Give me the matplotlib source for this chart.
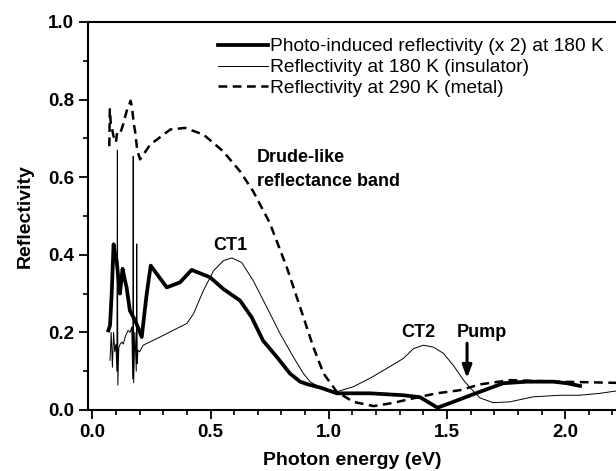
import matplotlib
matplotlib.use("Agg")
import matplotlib.pyplot as plt
from matplotlib.ticker import MultipleLocator

plt.rcParams['font.family'] = ['Liberation Sans', 'DejaVu Sans']

# Photo-induced reflectivity (x2) at 180 K
x_photo = [0.068, 0.075, 0.082, 0.09, 0.097, 0.103, 0.110, 0.117, 0.122, 0.128, 0.136, 0.145,
           0.159, 0.181, 0.195, 0.209, 0.23, 0.247, 0.315, 0.371, 0.42, 0.498, 0.554, 0.625,
           0.674, 0.722, 0.78, 0.836, 0.879, 0.912, 0.963, 1.034, 1.175, 1.316, 1.386, 1.46,
           1.527, 1.6, 1.64, 1.738, 1.838, 1.95, 2.007, 2.063]
y_photo = [0.205, 0.218, 0.30, 0.427, 0.40, 0.385, 0.34, 0.30, 0.33, 0.364, 0.34, 0.316,
           0.256, 0.231, 0.21, 0.188, 0.299, 0.372, 0.316, 0.329, 0.361, 0.342, 0.312, 0.282,
           0.239, 0.179, 0.137, 0.094, 0.073, 0.066, 0.058, 0.043, 0.043, 0.038, 0.033, 0.006,
           0.021, 0.038, 0.047, 0.069, 0.073, 0.073, 0.069, 0.062]

# Reflectivity at 180 K (insulator)
x_ins = [0.075, 0.08, 0.085, 0.09, 0.095, 0.100, 0.104, 0.106, 0.108, 0.112, 0.118, 0.125,
         0.131, 0.14, 0.151, 0.160, 0.167, 0.171, 0.173, 0.175, 0.180, 0.186, 0.188, 0.190,
         0.193, 0.20, 0.215, 0.286, 0.357, 0.40, 0.428, 0.47, 0.513, 0.555, 0.59, 0.632,
         0.681, 0.738, 0.794, 0.85, 0.893, 0.921, 0.963, 1.034, 1.104, 1.175, 1.245, 1.316,
         1.358, 1.40, 1.443, 1.485, 1.527, 1.57, 1.60, 1.64, 1.695, 1.766, 1.865, 1.978,
         2.06, 2.148, 2.215]
y_ins = [0.128, 0.20, 0.11, 0.20, 0.15, 0.17, 0.10, 0.67, 0.064, 0.16, 0.17, 0.175,
         0.17, 0.19, 0.205, 0.20, 0.214, 0.08, 0.654, 0.07, 0.20, 0.10, 0.428, 0.12,
         0.154, 0.15, 0.167, 0.188, 0.21, 0.223, 0.248, 0.308, 0.359, 0.385, 0.392, 0.38,
         0.333, 0.265, 0.197, 0.137, 0.094, 0.073, 0.058, 0.047, 0.06, 0.082, 0.107, 0.133,
         0.158, 0.167, 0.162, 0.146, 0.115, 0.077, 0.056, 0.031, 0.019, 0.021, 0.034, 0.038,
         0.038, 0.043, 0.049]

# Reflectivity at 290 K (metal)
x_met = [0.072, 0.074, 0.078, 0.085, 0.09, 0.096, 0.10, 0.105, 0.118, 0.13, 0.145, 0.155,
         0.162, 0.168, 0.175, 0.181, 0.19, 0.202, 0.245, 0.33, 0.392, 0.47, 0.553, 0.625,
         0.68, 0.75, 0.823, 0.879, 0.935, 0.978, 1.034, 1.104, 1.19, 1.27, 1.386, 1.457,
         1.555, 1.64, 1.766, 1.978, 2.215]
y_met = [0.68, 0.775, 0.74, 0.72, 0.705, 0.70, 0.69, 0.715, 0.713, 0.735, 0.77, 0.785,
         0.797, 0.78, 0.74, 0.718, 0.67, 0.646, 0.684, 0.723, 0.727, 0.71, 0.667, 0.615,
         0.564, 0.483, 0.367, 0.265, 0.162, 0.094, 0.047, 0.021, 0.01, 0.018, 0.034, 0.043,
         0.051, 0.066, 0.077, 0.073, 0.07]

labels = ["Photo-induced reflectivity (x 2) at 180 K",
          "Reflectivity at 180 K (insulator)",
          "Reflectivity at 290 K (metal)"]

fig = plt.figure(figsize=(6.16, 4.71), dpi=100)
ax = fig.add_axes([88/616, 61/471, 528/616, 388/471])

ax.plot(x_photo, y_photo, color='black', lw=2.7, label=labels[0], solid_joinstyle='round')
ax.plot(x_ins, y_ins, color='black', lw=0.7, label=labels[1])
ax.plot(x_met, y_met, color='black', lw=1.8, ls=(0, (3.5, 2.2)), label=labels[2])

ax.set_xlim(-0.0182, 2.215)
ax.set_ylim(0, 1.0)
ax.xaxis.set_major_locator(MultipleLocator(0.5))
ax.xaxis.set_minor_locator(MultipleLocator(0.1))
ax.yaxis.set_major_locator(MultipleLocator(0.2))
ax.yaxis.set_minor_locator(MultipleLocator(0.1))
ax.xaxis.set_major_formatter(plt.FuncFormatter(lambda v, p: f"{v:.1f}"))
ax.yaxis.set_major_formatter(plt.FuncFormatter(lambda v, p: f"{v:.1f}"))
ax.spines['right'].set_visible(False)
for s in ['left', 'bottom', 'top']:
    ax.spines[s].set_linewidth(1.5)
ax.tick_params(which='major', direction='out', length=6.5, width=1.3, labelsize=13.5)
ax.tick_params(which='minor', direction='out', length=3.5, width=1.2)
for lab in ax.get_xticklabels() + ax.get_yticklabels():
    lab.set_fontweight('bold')

ax.set_xlabel("Photon energy (eV)", fontsize=14, fontweight='bold', labelpad=8)
ax.set_ylabel("Reflectivity", fontsize=14, fontweight='bold', labelpad=10)

ax.text(0.695, 0.62, "Drude-like\nreflectance band", fontsize=13, fontweight='bold',
        ha='left', va='center', linespacing=1.5)
ax.text(0.583, 0.423, "CT1", fontsize=13, fontweight='bold', ha='center', va='center')
ax.text(1.38, 0.20, "CT2", fontsize=13, fontweight='bold', ha='center', va='center')
ax.text(1.648, 0.20, "Pump", fontsize=13, fontweight='bold', ha='center', va='center')
ax.annotate("", xy=(1.585, 0.082), xytext=(1.585, 0.172),
            arrowprops=dict(arrowstyle='-|>,head_length=0.75,head_width=0.28', color='black',
                            lw=2.2, shrinkA=0, shrinkB=0))

leg = ax.legend(loc='upper left', bbox_to_anchor=(218/616, 1 - 38/471),
                bbox_transform=fig.transFigure, frameon=False, fontsize=13.8,
                handlelength=2.6, handletextpad=0.1, labelspacing=0.18,
                borderpad=0, borderaxespad=0)

fig.savefig("out.png", dpi=100)
